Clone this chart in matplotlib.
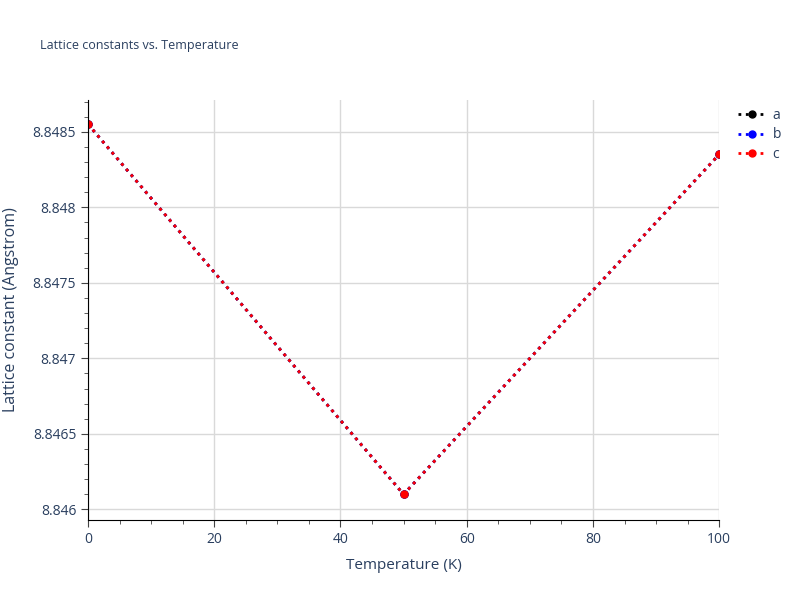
import matplotlib.pyplot as plt
from matplotlib.ticker import MultipleLocator

plt.rcParams['font.family'] = ['Open Sans', 'DejaVu Sans']

temps = [0, 50, 100]
lat_a = [8.84855, 8.84610, 8.84835]
lat_b = [8.84855, 8.84610, 8.84835]
lat_c = [8.84855, 8.84610, 8.84835]

txt = "#2a3f5f"

fig = plt.figure(figsize=(8, 6), dpi=100)
ax = fig.add_axes([0.11, 0.1333, 0.789, 0.7])

ax.plot(temps, lat_a, ":", marker="o", color="black", lw=2, ms=5, label="a")
ax.plot(temps, lat_b, ":", marker="o", color="blue", lw=2, ms=5, label="b")
ax.plot(temps, lat_c, ":", marker="o", color="red", lw=2, ms=5, label="c")

ax.set_xlim(0, 100)
ax.set_ylim(8.84593, 8.84871)
ax.xaxis.set_major_locator(MultipleLocator(20))
ax.xaxis.set_minor_locator(MultipleLocator(5))
ax.yaxis.set_major_locator(MultipleLocator(0.0005))
ax.yaxis.set_minor_locator(MultipleLocator(0.0001))
ax.yaxis.set_major_formatter(plt.FuncFormatter(lambda v, p: ("%.4f" % v).rstrip("0").rstrip(".")))

ax.grid(True, which="major", color="#d9d9d9", lw=1)
ax.set_axisbelow(True)
for s in ["top", "right"]:
    ax.spines[s].set_visible(False)
for s in ["left", "bottom"]:
    ax.spines[s].set_color("black")
ax.tick_params(which="major", length=5, color="#444444", labelcolor=txt, labelsize=10)
ax.tick_params(which="minor", length=3, color="#444444")

ax.set_xlabel("Temperature (K)", color=txt, fontsize=11, labelpad=8)
ax.set_ylabel("Lattice constant (Angstrom)", color=txt, fontsize=11.5, labelpad=10)
fig.text(0.05, 0.918, "Lattice constants vs. Temperature", color=txt, fontsize=9)

leg = ax.legend(loc="upper left", bbox_to_anchor=(1.01, 1.01), frameon=False,
                fontsize=10, handlelength=2.0, handletextpad=0.5,
                labelspacing=0.3, labelcolor=txt)

plt.savefig("out.png", dpi=100)
